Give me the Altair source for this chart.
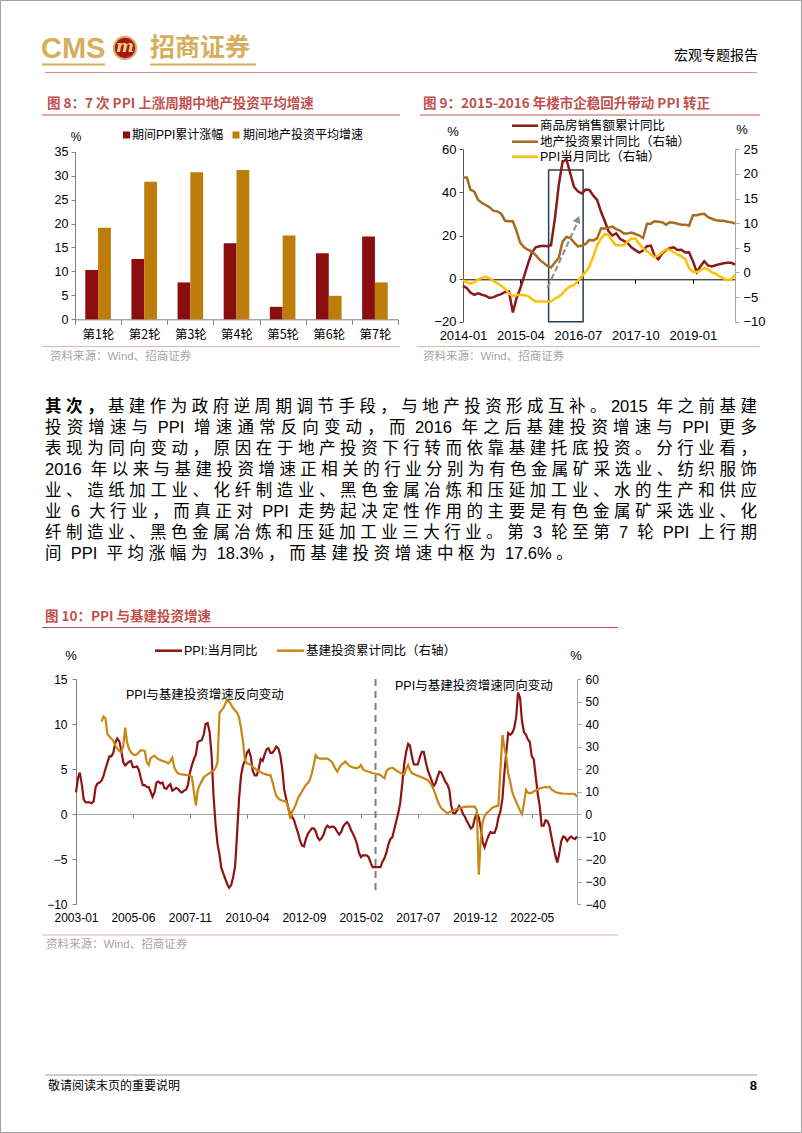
import re
import altair as alt
import pandas as pd

PAGE_W, PAGE_H = 802, 1133
FONT = "Liberation Sans, Noto Sans CJK SC, sans-serif"
CJK = "Noto Sans CJK SC, sans-serif"

TITLE_RED = "#C0504D"
GOLD_LOGO = "#D6AE5C"
SRC_GRAY = "#A6A6A6"

# ---------------- Figure 8 data ----------------
rounds = ["第1轮", "第2轮", "第3轮", "第4轮", "第5轮", "第6轮", "第7轮"]
ppi_cum = [10.3, 12.6, 7.7, 15.9, 2.6, 13.8, 17.3]
re_avg = [19.1, 28.7, 30.7, 31.2, 17.5, 4.9, 7.7]
fig8_y_ticks = [0, 5, 10, 15, 20, 25, 30, 35]
fig8_legend = ["期间PPI累计涨幅", "期间地产投资平均增速"]

# ---------------- Figure 9 data (monthly 2014-01 .. 2019-12) ----------------
sales_yoy = [
    -3.4, -4.5, -6.5, -7.5, -6.8, -7.5, -8.0, -9.0, -8.6, -7.8, -7.2, -6.2,
    -6.0, -15.7, -9.3, -4.5, 1.0, 7.0, 12.0, 14.5, 15.0, 15.2, 15.0, 15.5,
    28.0, 43.6, 54.1, 55.4, 49.0, 42.5, 40.5, 39.5, 41.3, 41.1, 38.5, 36.5,
    31.0, 26.5, 22.0, 20.0, 21.0, 18.5, 17.5, 16.4, 14.4, 13.2, 12.1, 13.0,
    15.0, 15.3, 10.8, 9.0, 11.6, 13.2, 14.1, 14.5, 13.3, 13.4, 12.1, 12.2,
    8.0, 3.0, 5.6, 8.1, 6.1, 5.6, 6.2, 6.7, 7.1, 7.3, 7.3, 6.5,
]
re_inv_yoy = [
    19.3, 19.3, 16.8, 16.4, 14.7, 14.1, 13.7, 13.2, 12.5, 12.4, 11.9, 10.5,
    10.4, 10.4, 8.5, 6.0, 5.1, 4.6, 4.3, 3.5, 2.6, 2.0, 1.3, 1.0,
    2.0, 3.0, 6.2, 7.2, 7.0, 6.1, 5.3, 5.4, 5.8, 6.6, 6.5, 6.9,
    8.9, 8.9, 9.1, 9.3, 8.8, 8.5, 7.9, 7.9, 8.1, 7.8, 7.5, 7.0,
    9.9, 9.9, 10.4, 10.3, 10.2, 9.7, 10.2, 10.1, 9.9, 9.7, 9.7, 9.5,
    11.6, 11.6, 11.8, 11.9, 11.2, 10.9, 10.6, 10.5, 10.5, 10.3, 10.2, 9.9,
]
ppi_m9 = [
    -1.6, -2.0, -2.3, -2.0, -1.4, -1.1, -0.9, -1.2, -1.8, -2.2, -2.7, -3.3,
    -4.3, -4.8, -4.6, -4.6, -4.6, -4.8, -5.4, -5.9, -5.9, -5.9, -5.9, -5.9,
    -5.3, -4.9, -4.3, -3.4, -2.8, -2.6, -1.7, -0.8, 0.1, 1.2, 3.3, 5.5,
    6.9, 7.8, 7.6, 6.4, 5.5, 5.5, 5.5, 6.3, 6.9, 6.9, 5.8, 4.9,
    4.3, 3.7, 3.1, 3.4, 4.1, 4.7, 4.6, 4.1, 3.6, 3.3, 2.7, 0.9,
    0.1, 0.1, 0.4, 0.9, 0.6, 0.0, -0.3, -0.8, -1.2, -1.6, -1.4, -0.5,
]
fig9_legend = ["商品房销售额累计同比", "地产投资累计同比（右轴）", "PPI当月同比（右轴）"]
fig9_left_ticks = [-20, 0, 20, 40, 60]
fig9_right_ticks = [-10, -5, 0, 5, 10, 15, 20, 25]
fig9_x_labels = [(2014, 1), (2015, 4), (2016, 7), (2017, 10), (2019, 1)]

# ---------------- Figure 10 data ----------------
ppi_m10 = [  # 2003-01 .. 2024-04
    2.4, 4.0, 4.6, 3.3, 1.6, 1.3, 1.3, 1.3, 1.2, 1.4, 3.0, 3.4,
    3.5, 3.7, 4.2, 5.0, 5.7, 6.4, 6.4, 6.8, 7.9, 8.4, 8.1, 7.1,
    5.8, 5.4, 5.6, 5.8, 5.9, 5.2, 5.2, 5.3, 4.9, 4.0, 3.2, 3.2,
    3.0, 3.0, 2.5, 1.9, 2.4, 3.5, 3.6, 3.4, 3.5, 2.9, 2.8, 3.1,
    3.3, 2.6, 2.7, 2.9, 2.8, 2.5, 2.4, 2.6, 2.7, 3.2, 4.6, 5.4,
    6.1, 6.6, 8.0, 8.1, 8.2, 8.8, 10.0, 10.1, 9.1, 6.6, 2.0, -1.1,
    -3.3, -4.5, -6.0, -6.6, -7.2, -7.8, -8.2, -7.9, -7.0, -5.8, -2.1, 1.7,
    4.3, 5.4, 5.9, 6.8, 7.1, 6.4, 4.8, 4.3, 4.3, 5.0, 6.1, 5.9,
    6.6, 7.2, 7.3, 6.8, 6.8, 7.1, 7.5, 7.3, 6.5, 5.0, 2.7, 1.7,
    0.7, 0.0, -0.3, -0.7, -1.4, -2.1, -2.9, -3.5, -3.6, -2.8, -2.2, -1.9,
    -1.6, -1.6, -1.9, -2.6, -2.9, -2.7, -2.3, -1.6, -1.3, -1.5, -1.4, -1.4,
    -1.6, -2.0, -2.3, -2.0, -1.4, -1.1, -0.9, -1.2, -1.8, -2.2, -2.7, -3.3,
    -4.3, -4.8, -4.6, -4.6, -4.6, -4.8, -5.4, -5.9, -5.9, -5.9, -5.9, -5.9,
    -5.3, -4.9, -4.3, -3.4, -2.8, -2.6, -1.7, -0.8, 0.1, 1.2, 3.3, 5.5,
    6.9, 7.8, 7.6, 6.4, 5.5, 5.5, 5.5, 6.3, 6.9, 6.9, 5.8, 4.9,
    4.3, 3.7, 3.1, 3.4, 4.1, 4.7, 4.6, 4.1, 3.6, 3.3, 2.7, 0.9,
    0.1, 0.1, 0.4, 0.9, 0.6, 0.0, -0.3, -0.8, -1.2, -1.6, -1.4, -0.5,
    0.1, -0.4, -1.5, -3.1, -3.7, -3.0, -2.4, -2.0, -2.1, -2.1, -1.5, -0.4,
    0.3, 1.7, 4.4, 6.8, 9.0, 8.8, 9.0, 9.5, 10.7, 13.5, 12.9, 10.3,
    9.1, 8.8, 8.3, 8.0, 6.4, 6.1, 4.2, 2.3, 0.9, -1.3, -1.3, -0.7,
    -0.8, -1.4, -2.5, -3.6, -4.6, -5.4, -4.4, -3.0, -2.5, -2.6, -3.0, -2.7,
    -2.5, -2.7, -2.8, -2.5,
]
infra_yoy = [  # 2004-02 .. 2024-04
    41.0, 43.3, 42.5, 35.5, 34.5, 33.5, 32.5, 30.5, 29.2, 28.0, 27.4,
    30.0, 38.4, 32.0, 29.0, 27.4, 26.5, 26.2, 26.5, 27.5, 28.4, 28.2, 28.0,
    23.0, 21.8, 24.7, 25.5, 25.9, 25.0, 24.3, 24.0, 23.6, 23.3, 23.0, 22.5,
    23.5, 25.0, 21.0, 19.0, 18.1, 17.8, 17.6, 17.5, 17.3, 17.3, 17.0, 16.6,
    10.0, 3.7, 10.5, 12.9, 14.5, 16.2, 17.0, 17.6, 18.1, 18.8, 19.3, 20.5,
    23.0, 45.0, 46.0, 47.0, 49.0, 50.7, 50.0, 48.5, 47.0, 46.0, 45.0, 43.0,
    38.0, 32.0, 24.0, 22.5, 22.3, 21.8, 21.0, 20.3, 19.6, 19.0, 18.6, 18.1,
    17.8, 17.5, 17.3, 17.3, 14.5, 11.0, 8.0, 7.0, 6.2, 6.0, 5.7, 5.5,
    3.0, -2.2, 1.0, 2.5, 4.5, 7.0, 8.5, 10.0, 11.5, 12.9, 13.8, 15.1,
    18.0, 22.0, 26.2, 25.0, 24.7, 24.5, 24.7, 24.5, 24.7, 24.0, 23.3, 22.0,
    20.0, 18.8, 20.5, 21.8, 22.5, 23.3, 22.5, 21.5, 21.0, 20.7, 20.5, 20.3,
    20.8, 21.8, 20.0, 19.3, 19.1, 18.8, 18.5, 18.1, 18.0, 17.8, 17.6, 17.3,
    16.5, 15.9, 19.0, 20.0, 20.3, 20.6, 20.0, 19.3, 18.8, 18.3, 18.0, 17.6,
    20.0, 21.8, 19.5, 18.1, 17.8, 17.3, 17.0, 16.6, 16.3, 15.9, 15.5, 15.1,
    14.0, 12.8, 11.0, 8.5, 6.2, 4.0, 2.5, 1.8, 1.0, 0.3, 0.8, 1.2,
    1.6, 2.0, 2.3, 2.6, 2.8, 3.0, 3.2, 3.3, 3.3, 3.3, 3.3, 3.3,
    1.5, -27.0, -12.0, -3.4, -1.0, 0.5, 1.0, 2.0, 2.8, 3.2, 3.5, 3.7,
    20.0, 35.1, 30.0, 25.5, 18.0, 14.4, 10.0, 7.5, 5.5, 3.5, 1.5, 0.0,
    4.7, 10.7, 9.5, 9.2, 9.5, 10.0, 10.5, 11.0, 11.3, 11.6, 11.8, 12.0,
    11.8, 12.1, 11.0, 10.4, 9.8, 9.5, 9.3, 9.2, 9.0, 9.0, 9.0, 8.8,
    9.0, 9.0, 8.8, 7.7,
]
fig10_legend = ["PPI:当月同比", "基建投资累计同比（右轴）"]
fig10_left_ticks = [-10, -5, 0, 5, 10, 15]
fig10_right_ticks = [-40, -30, -20, -10, 0, 10, 20, 30, 40, 50, 60]
fig10_x_labels = [(2003, 1), (2005, 6), (2007, 11), (2010, 4), (2012, 9),
                  (2015, 2), (2017, 7), (2019, 12), (2022, 5)]

paragraph_lead = "其次，"
paragraph_lines = [
    "其次，基建作为政府逆周期调节手段，与地产投资形成互补。2015 年之前基建",
    "投资增速与 PPI 增速通常反向变动，而 2016 年之后基建投资增速与 PPI 更多",
    "表现为同向变动，原因在于地产投资下行转而依靠基建托底投资。分行业看，",
    "2016 年以来与基建投资增速正相关的行业分别为有色金属矿采选业、纺织服饰",
    "业、造纸加工业、化纤制造业、黑色金属冶炼和压延加工业、水的生产和供应",
    "业 6 大行业，而真正对 PPI 走势起决定性作用的主要是有色金属矿采选业、化",
    "纤制造业、黑色金属冶炼和压延加工业三大行业。第 3 轮至第 7 轮 PPI 上行期",
    "间 PPI 平均涨幅为 18.3%，而基建投资增速中枢为 17.6%。",
]

# ---------------- helpers for page decoration ----------------
one = pd.DataFrame({"k": [0]})


def text(s, x, y, size=12, color="black", weight="normal", align="left",
         font=FONT, baseline="middle", **kw):
    return alt.Chart(one).mark_text(
        text=s, fontSize=size, color=color, fontWeight=weight, align=align,
        baseline=baseline, font=font, **kw
    ).encode(x=alt.value(x), y=alt.value(y))


def hline(x1, x2, y, color, width=1.0, dash=None):
    kw = dict(color=color, strokeWidth=width)
    if dash:
        kw["strokeDash"] = dash
    return alt.Chart(one).mark_rule(**kw).encode(
        x=alt.value(x1), x2=alt.value(x2), y=alt.value(y))


def dt(y, m, d=1):
    return alt.DateTime(year=y, month=m, date=d)


layers = []

# page border
layers.append(alt.Chart(one).mark_rect(fillOpacity=0, stroke="#A0A0A0", strokeWidth=1).encode(
    x=alt.value(0.5), x2=alt.value(801.5), y=alt.value(0.5), y2=alt.value(1132.5)))

# ---------------- header ----------------
layers.append(text("CMS", 41, 49, size=29, color=GOLD_LOGO, weight="bold",
                   font="Liberation Sans, sans-serif"))
layers.append(hline(42, 105, 64.5, GOLD_LOGO, 2))
layers.append(alt.Chart(one).mark_point(filled=True, shape="circle", size=500, color="#A8161B",
                                        stroke="#D6AE5C", strokeWidth=2, opacity=1).encode(
    x=alt.value(125), y=alt.value(48)))
layers.append(text("m", 125, 47, size=17, color="#F2D27A", weight="bold", align="center",
                   font="DejaVu Serif, serif", fontStyle="italic"))
layers.append(text("招商证券", 150, 48, size=25, color=GOLD_LOGO, weight="bold", font=CJK))
layers.append(hline(150, 256, 64.5, GOLD_LOGO, 2))
layers.append(text("宏观专题报告", 758, 56, size=14, align="right", font=CJK))
layers.append(hline(45, 757, 72.5, "#D98F86", 1.2))

# ---------------- Figure 8 ----------------
layers.append(text("图 8：7 次 PPI 上涨周期中地产投资平均增速", 47, 104, size=13.5,
                   color=TITLE_RED, weight="bold", font=CJK))
layers.append(hline(42, 400, 115, TITLE_RED, 1))
layers.append(text("%", 76, 137, size=12, align="center"))
layers.append(alt.Chart(one).mark_square(size=49, color="#8B0E0E", opacity=1).encode(
    x=alt.value(126.5), y=alt.value(135)))
layers.append(text(fig8_legend[0], 132, 135, size=12))
layers.append(alt.Chart(one).mark_square(size=49, color="#BE7D0A", opacity=1).encode(
    x=alt.value(236), y=alt.value(135)))
layers.append(text(fig8_legend[1], 243, 135, size=12))

df8 = pd.DataFrame({"round": rounds, "ppi": ppi_cum, "re": re_avg})
x8 = alt.Scale(domain=rounds, range=[75, 398], paddingInner=0, paddingOuter=0)
y8 = alt.Scale(domain=[0, 35], range=[319.3, 151.7], nice=False, zero=False)
BW = 12.8
layers.append(alt.Chart(df8).mark_bar(color="#8B0E0E", size=BW, xOffset=-BW / 2).encode(
    x=alt.X("round:N", sort=rounds, scale=x8, title=None,
            axis=alt.Axis(orient="bottom", offset=319.3 - PAGE_H, tickBand="extent",
                          tickSize=5, labelPadding=4, labelAngle=0, labelFont=CJK,
                          labelFontSize=12.5, domainColor="#808080", tickColor="#808080",
                          labelColor="black")),
    y=alt.Y("ppi:Q", scale=y8, title=None,
            axis=alt.Axis(orient="left", offset=-75, values=fig8_y_ticks, tickSize=4,
                          labelPadding=3, labelFont=FONT, labelFontSize=12.5,
                          domainColor="#808080", tickColor="#808080", labelColor="black",
                          grid=False))))
layers.append(alt.Chart(df8).mark_bar(color="#BE7D0A", size=BW, xOffset=BW / 2).encode(
    x=alt.X("round:N", sort=rounds, scale=x8, axis=None),
    y=alt.Y("re:Q", scale=y8, axis=None)))
layers.append(hline(42, 400, 346.5, "#E2B4AC", 1))
layers.append(text("资料来源：Wind、招商证券", 50, 356.5, size=11.5, color=SRC_GRAY))

# ---------------- Figure 9 ----------------
layers.append(text("图 9：2015-2016 年楼市企稳回升带动 PPI 转正", 423, 104, size=13.5,
                   color=TITLE_RED, weight="bold", font=CJK))
layers.append(hline(420, 760, 115, TITLE_RED, 1))
layers.append(text("%", 453, 132, size=13, align="center"))
layers.append(text("%", 742, 130, size=13, align="center"))
leg9_colors = ["#8B1A1A", "#A86B1E", "#FFC000"]
leg9_y = [125.7, 141.7, 156.7]
for name, col, yy in zip(fig9_legend, leg9_colors, leg9_y):
    layers.append(hline(512, 538, yy, col, 2.5))
    layers.append(text(name, 540, yy, size=12.5))

m9 = pd.date_range("2014-01-01", periods=72, freq="MS")
df9 = pd.DataFrame({"date": m9, "sales": sales_yoy, "reinv": re_inv_yoy, "ppi": ppi_m9})
x9 = alt.Scale(domain=[dt(2014, 1), dt(2019, 12)], range=[463, 735], nice=False)
yl9 = alt.Scale(domain=[-20, 60], range=[321.7, 149.3], nice=False, zero=False)
yr9 = alt.Scale(domain=[-10, 25], range=[321.7, 149.3], nice=False, zero=False)
x9_vals = [dt(y, m) for y, m in fig9_x_labels]

box9 = pd.DataFrame({"x1": [pd.Timestamp("2015-11-12")], "x2": [pd.Timestamp("2016-08-12")],
                     "y1": [50.4], "y2": [-20.0]})
layers.append(alt.Chart(box9).mark_rect(fillOpacity=0, stroke="#243F60", strokeWidth=1.5).encode(
    x=alt.X("x1:T", scale=x9, axis=None), x2="x2:T",
    y=alt.Y("y1:Q", scale=yl9, axis=None), y2="y2:Q"))

layers.append(alt.Chart(df9).mark_line(color=leg9_colors[0], strokeWidth=2.5).encode(
    x=alt.X("date:T", scale=x9, title=None,
            axis=alt.Axis(orient="bottom", offset=321.7 - PAGE_H, values=x9_vals,
                          format="%Y-%m", formatType="time", domain=False, ticks=False,
                          tickSize=0, labelPadding=8, labelFont=FONT, labelFontSize=13,
                          labelColor="black", labelFlush=False, labelOverlap=False,
                          grid=False)),
    y=alt.Y("sales:Q", scale=yl9, title=None,
            axis=alt.Axis(orient="left", offset=-463, values=fig9_left_ticks, tickSize=4,
                          labelPadding=3, labelFont=FONT, labelFontSize=13,
                          domainColor="#595959", tickColor="#595959", labelColor="black",
                          grid=False))))
layers.append(alt.Chart(df9).mark_line(color=leg9_colors[1], strokeWidth=2.5).encode(
    x=alt.X("date:T", scale=x9, title=None,
            axis=alt.Axis(orient="bottom", offset=279.3 - PAGE_H, values=x9_vals,
                          labels=False, tickSize=4, domainColor="black", tickColor="black",
                          grid=False)),
    y=alt.Y("reinv:Q", scale=yr9, title=None,
            axis=alt.Axis(orient="right", offset=735 - PAGE_W, values=fig9_right_ticks,
                          tickSize=4, labelPadding=4, labelFont=FONT, labelFontSize=13,
                          domainColor="#A6A6A6", tickColor="#A6A6A6", labelColor="black",
                          grid=False))))
layers.append(alt.Chart(df9).mark_line(color=leg9_colors[2], strokeWidth=2.5).encode(
    x=alt.X("date:T", scale=x9, axis=None),
    y=alt.Y("ppi:Q", scale=yr9, axis=None)))

arrow9 = pd.DataFrame({"date": [pd.Timestamp("2015-11-03"), pd.Timestamp("2016-06-20")],
                       "v": [-4.2, 25.0]})
layers.append(alt.Chart(arrow9).mark_line(color="#8C8C8C", strokeWidth=2, strokeDash=[6, 3]).encode(
    x=alt.X("date:T", scale=x9, axis=None), y=alt.Y("v:Q", scale=yl9, axis=None)))
head9 = pd.DataFrame({"date": [pd.Timestamp("2016-07-01")], "v": [27.5]})
layers.append(alt.Chart(head9).mark_point(shape="triangle-up", filled=True, size=70, angle=23,
                                          color="#8C8C8C", opacity=1).encode(
    x=alt.X("date:T", scale=x9, axis=None), y=alt.Y("v:Q", scale=yl9, axis=None)))
layers.append(hline(418, 760, 346.5, "#E2B4AC", 1))
layers.append(text("资料来源：Wind、招商证券", 423, 356.5, size=11.5, color=SRC_GRAY))

# ---------------- paragraph (justified, laid out token by token) ----------------
PF = 16.5
PX0, PX1 = 45.0, 757.0
PY0, PDY = 406.7, 21.1
LAT_W = {" ": 0.278, ".": 0.278, "%": 0.889, "P": 0.667, "I": 0.278, ":": 0.278}


def tok_width(t):
    w = 0.0
    for c in t:
        if ord(c) > 0x2E80:
            w += PF
        elif c.isdigit():
            w += 0.556 * PF
        else:
            w += LAT_W.get(c, 0.6) * PF
    return w


rows = []
gaps = []
tok_lines = [re.findall(r" ?[\x21-\x7e]+ ?|.", ln) for ln in paragraph_lines]
for toks in tok_lines[:-1]:
    natural = sum(tok_width(t) for t in toks)
    gaps.append((PX1 - PX0 - natural) / (len(toks) - 1))
mean_gap = sum(gaps) / len(gaps)
for i, toks in enumerate(tok_lines):
    g = gaps[i] if i < len(gaps) else mean_gap
    x = PX0
    for j, t in enumerate(toks):
        lead = len(t) - len(t.lstrip(" "))
        rows.append({"x": x + tok_width(" " * lead), "y": PY0 + PDY * i, "t": t.strip(" "),
                     "b": i == 0 and j < len(paragraph_lead)})
        x += tok_width(t) + g
pdf = pd.DataFrame(rows)
for bold in (False, True):
    sub = pdf[pdf["b"] == bold]
    layers.append(alt.Chart(sub).mark_text(
        align="left", baseline="middle", fontSize=PF, font=FONT, color="black",
        fontWeight="bold" if bold else "normal").encode(
        x=alt.X("x:Q", scale=None), y=alt.Y("y:Q", scale=None), text="t:N"))

# ---------------- Figure 10 ----------------
layers.append(text("图 10：PPI 与基建投资增速", 45, 617, size=13.5, color=TITLE_RED,
                   weight="bold", font=CJK))
layers.append(hline(42, 618, 627.5, TITLE_RED, 1))
C10_RED, C10_ORG = "#8C1414", "#C98614"
layers.append(hline(155, 182, 650.7, C10_RED, 2.5))
layers.append(text(fig10_legend[0], 184, 650.7, size=12.5))
layers.append(hline(277, 304, 650.7, C10_ORG, 2.5))
layers.append(text(fig10_legend[1], 306, 650.7, size=12.5))
layers.append(text("%", 71, 656, size=13, align="center"))
layers.append(text("%", 576, 656, size=13, align="center"))
layers.append(text("PPI与基建投资增速反向变动", 126, 695, size=12.5))
layers.append(text("PPI与基建投资增速同向变动", 395, 686, size=12.5))

x10 = alt.Scale(domain=[dt(2003, 1), dt(2024, 4)], range=[76, 577], nice=False)
yl10 = alt.Scale(domain=[-10, 15], range=[904, 679], nice=False, zero=False)
yr10 = alt.Scale(domain=[-40, 60], range=[904, 679], nice=False, zero=False)
x10_vals = [dt(y, m) for y, m in fig10_x_labels]

df10a = pd.DataFrame({"date": pd.date_range("2003-01-01", periods=len(ppi_m10), freq="MS"),
                      "ppi": ppi_m10})
df10b = pd.DataFrame({"date": pd.date_range("2004-02-01", periods=len(infra_yoy), freq="MS"),
                      "infra": infra_yoy})

div10 = pd.DataFrame({"date": [pd.Timestamp("2015-09-15")], "top": [15.0], "bot": [-9.0]})
layers.append(alt.Chart(div10).mark_rule(color="#808080", strokeWidth=2, strokeDash=[7, 5]).encode(
    x=alt.X("date:T", scale=x10, axis=None),
    y=alt.Y("top:Q", scale=yl10, axis=None), y2="bot:Q"))

layers.append(alt.Chart(df10a).mark_line(color=C10_RED, strokeWidth=2.2).encode(
    x=alt.X("date:T", scale=x10, title=None,
            axis=alt.Axis(orient="bottom", offset=904 - PAGE_H, values=x10_vals,
                          format="%Y-%m", formatType="time", domain=False, ticks=False,
                          tickSize=0, labelPadding=8, labelFont=FONT, labelFontSize=12,
                          labelColor="black", labelFlush=False, labelOverlap=False,
                          grid=False)),
    y=alt.Y("ppi:Q", scale=yl10, title=None,
            axis=alt.Axis(orient="left", offset=-76, values=fig10_left_ticks, tickSize=4,
                          labelPadding=5, labelFont=FONT, labelFontSize=12,
                          domainColor="#808080", tickColor="#808080", labelColor="black",
                          grid=False))))
layers.append(alt.Chart(df10b).mark_line(color=C10_ORG, strokeWidth=2.2).encode(
    x=alt.X("date:T", scale=x10, title=None,
            axis=alt.Axis(orient="bottom", offset=814 - PAGE_H, values=x10_vals[1:],
                          labels=False, tickSize=4, domainColor="#A6A6A6",
                          tickColor="#808080", grid=False)),
    y=alt.Y("infra:Q", scale=yr10, title=None,
            axis=alt.Axis(orient="right", offset=577 - PAGE_W, values=fig10_right_ticks,
                          tickSize=4, labelPadding=4, labelFont=FONT, labelFontSize=12,
                          domainColor="#A6A6A6", tickColor="#A6A6A6", labelColor="black",
                          grid=False))))
layers.append(hline(42, 618, 935, "#E2B4AC", 1))
layers.append(text("资料来源：Wind、招商证券", 46, 944.5, size=11.5, color=SRC_GRAY))

# ---------------- footer ----------------
layers.append(hline(45, 757, 1075, "#9A9A9A", 1))
layers.append(text("敬请阅读末页的重要说明", 48, 1086, size=12, font=CJK))
layers.append(text("8", 757, 1086, size=13, weight="bold", align="right"))

chart = alt.layer(*layers).resolve_scale(
    x="independent", y="independent"
).properties(
    width=PAGE_W, height=PAGE_H, padding=0,
    autosize=alt.AutoSizeParams(type="none"), background="white"
).configure_view(stroke=None).configure_axis(grid=False)

chart.save("out.html", embed_options={"renderer": "svg", "actions": False})
